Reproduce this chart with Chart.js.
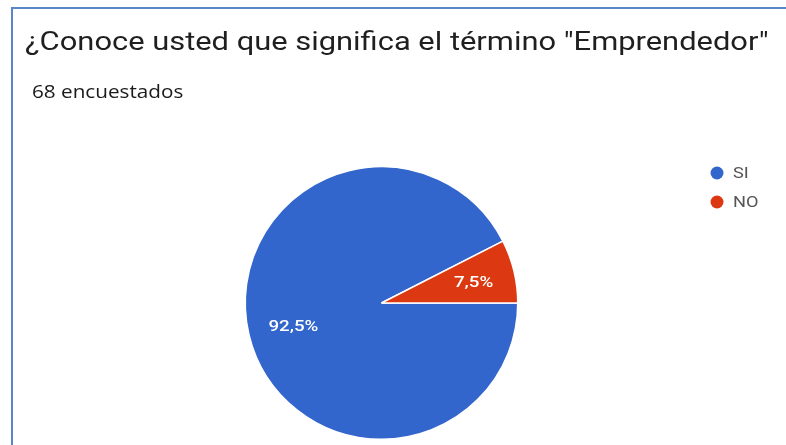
<!DOCTYPE html>
<html>
<head>
<meta charset="utf-8">
<script src="https://cdn.jsdelivr.net/npm/chart.js@4/dist/chart.umd.min.js"></script>
<style>
  html, body { margin: 0; padding: 0; background: #ffffff; overflow: hidden; }
  canvas { display: block; }
</style>
</head>
<body>
<canvas id="c" width="786" height="445"></canvas>
<script>
const titleText = '¿Conoce usted que significa el término "Emprendedor"';
const subtitleText = '68 encuestados';
const categories = ['SI', 'NO'];
const values = [92.5, 7.5];
const percentLabels = ['92,5%', '7,5%'];
const colors = ['#3366cc', '#dc3912'];

function drawText(ctx, text, x, y, font, color, sx, align) {
  ctx.save();
  ctx.font = font;
  ctx.fillStyle = color;
  ctx.textBaseline = 'alphabetic';
  ctx.textAlign = align || 'left';
  ctx.translate(x, y);
  ctx.scale(sx, 1);
  ctx.fillText(text, 0, 0);
  ctx.restore();
}

const framePlugin = {
  id: 'frameAndHeader',
  beforeDraw(chart) {
    const ctx = chart.ctx;
    ctx.save();
    ctx.fillStyle = '#ffffff';
    ctx.fillRect(0, 0, chart.width, chart.height);
    ctx.strokeStyle = '#5a86c8';
    ctx.lineWidth = 2;
    ctx.beginPath();
    ctx.moveTo(12, chart.height);
    ctx.lineTo(12, 8);
    ctx.lineTo(chart.width, 8);
    ctx.stroke();
    ctx.restore();
    drawText(ctx, titleText, 25, 50, '25px Roboto', '#1f1f1f', 1.235);
    drawText(ctx, subtitleText, 32, 98, '500 18px "Open Sans"', '#1a1a1a', 1.15);
  }
};

const legendPlugin = {
  id: 'customLegend',
  afterDraw(chart) {
    const ctx = chart.ctx;
    const ds = chart.data.datasets[0];
    chart.data.labels.forEach((lab, i) => {
      const y = 173 + i * 29;
      ctx.save();
      ctx.beginPath();
      ctx.arc(717, y, 6.5, 0, Math.PI * 2);
      ctx.fillStyle = ds.backgroundColor[i];
      ctx.fill();
      ctx.restore();
      drawText(ctx, lab, 733, y + 5, '14px Roboto', '#555555', 1.3);
    });
  }
};

const labelPlugin = {
  id: 'sliceLabels',
  afterDatasetsDraw(chart) {
    const ctx = chart.ctx;
    const meta = chart.getDatasetMeta(0);
    meta.data.forEach((arc, i) => {
      const p = arc.getProps(['x', 'y', 'startAngle', 'endAngle', 'outerRadius'], true);
      const mid = (p.startAngle + p.endAngle) / 2;
      const r = p.outerRadius * 0.68;
      const cx = p.x + Math.cos(mid) * r;
      const cy = p.y + Math.sin(mid) * r;
      drawText(ctx, percentLabels[i], cx + 2, cy + 6, '500 15px Roboto', '#ffffff', 1.25, 'center');
    });
  }
};

new Chart(document.getElementById('c'), {
  type: 'pie',
  data: {
    labels: categories,
    datasets: [{
      data: values,
      backgroundColor: colors,
      borderColor: '#ffffff',
      borderWidth: 1.5
    }]
  },
  options: {
    responsive: false,
    animation: false,
    rotation: 90,
    layout: { padding: { left: 25, right: 48, top: 166, bottom: 5 } },
    plugins: {
      legend: { display: false },
      tooltip: { enabled: false },
      title: { display: false },
      subtitle: { display: false }
    }
  },
  plugins: [framePlugin, legendPlugin, labelPlugin]
});
</script>
</body>
</html>
